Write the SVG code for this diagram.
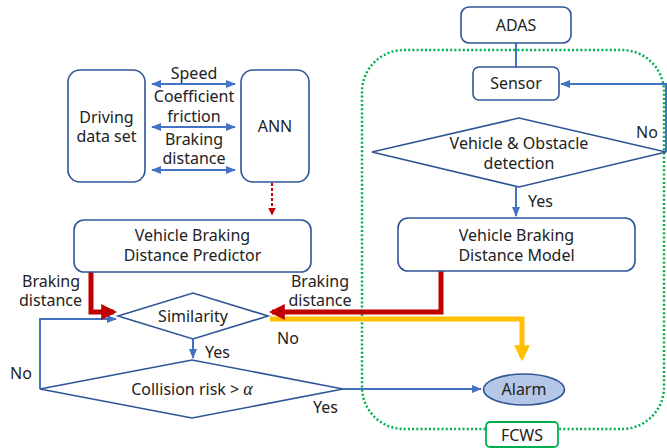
<svg xmlns="http://www.w3.org/2000/svg" width="667" height="448" viewBox="0 0 667 448">
<defs>
<style>
.box{fill:#fff;stroke:#2f5597;stroke-width:1.6}
.t{font-family:"Noto Sans","Open Sans",sans-serif;font-size:16px;fill:#222;text-anchor:middle}
.tl{font-family:"Noto Sans","Open Sans",sans-serif;font-size:16px;fill:#222}
.bl{fill:none;stroke:#4472c4;stroke-width:2}
.red{fill:none;stroke:#c00000;stroke-width:5}
.yel{fill:none;stroke:#ffc000;stroke-width:5}
</style>
<marker id="ab" viewBox="0 0 10 10" refX="9" refY="5" markerWidth="5" markerHeight="5" orient="auto-start-reverse" markerUnits="strokeWidth"><path d="M0,1 L10,5 L0,9 z" fill="#4472c4"/></marker>
<marker id="ar" viewBox="0 0 10 10" refX="8" refY="5" markerWidth="3.2" markerHeight="3.2" orient="auto" markerUnits="strokeWidth"><path d="M0,0 L10,5 L0,10 z" fill="#c00000"/></marker>
<marker id="ay" viewBox="0 0 10 10" refX="8" refY="5" markerWidth="3.2" markerHeight="3.2" orient="auto" markerUnits="strokeWidth"><path d="M0,0 L10,5 L0,10 z" fill="#ffc000"/></marker>
<marker id="ard" viewBox="0 0 10 10" refX="8" refY="5" markerWidth="4" markerHeight="4" orient="auto" markerUnits="strokeWidth"><path d="M0,0 L10,5 L0,10 z" fill="#c00000"/></marker>
</defs>
<rect width="667" height="448" fill="#fff"/>

<g id="fcws-frame">
<rect x="362" y="50" width="302" height="379" rx="42" fill="none" stroke="#00b050" stroke-width="2.5" stroke-dasharray="2 2.2"/>
</g>

<g id="connectors">
<line class="bl" x1="152" y1="84" x2="235" y2="84" marker-start="url(#ab)" marker-end="url(#ab)"/>
<line class="bl" x1="152" y1="127" x2="235" y2="127" marker-start="url(#ab)" marker-end="url(#ab)"/>
<line class="bl" x1="152" y1="170" x2="235" y2="170" marker-start="url(#ab)" marker-end="url(#ab)"/>
<line x1="272" y1="183" x2="272" y2="214" stroke="#c00000" stroke-width="2" stroke-dasharray="3 2" marker-end="url(#ard)"/>
<polyline class="bl" points="40,389 40,319 116,319" marker-end="url(#ab)"/>
<line class="bl" x1="193" y1="339" x2="193" y2="358" marker-end="url(#ab)"/>
<line class="bl" x1="343" y1="389" x2="481" y2="389" marker-end="url(#ab)"/>
<polyline class="yel" points="270,319 522,319 522,358" marker-end="url(#ay)"/>
<polyline class="red" points="91,272 91,312 114,312" marker-end="url(#ar)"/>
<polyline class="red" points="441,271 441,312 272,312" marker-end="url(#ar)"/>
<line class="bl" x1="516" y1="43" x2="516" y2="67"/>
<polyline class="bl" points="666,152 666,84 561,84" marker-end="url(#ab)"/>
<line class="bl" x1="516" y1="187" x2="516" y2="216" marker-end="url(#ab)"/>
</g>

<g id="driving-data-set">
<rect class="box" x="68" y="70" width="77" height="112" rx="12"/>
<text class="t" x="106.5" y="123">Driving</text>
<text class="t" x="106.5" y="142">data set</text>
</g>
<g id="ann">
<rect class="box" x="241" y="70" width="68" height="112" rx="12"/>
<text class="t" x="275" y="132">ANN</text>
</g>
<g id="link-labels">
<text class="t" x="194" y="79">Speed</text>
<text class="t" x="194" y="102">Coefficient</text>
<text class="t" x="194" y="122">friction</text>
<text class="t" x="194" y="145">Braking</text>
<text class="t" x="194" y="164">distance</text>
</g>
<g id="predictor">
<rect class="box" x="74" y="220" width="237" height="52" rx="10"/>
<text class="t" x="192.5" y="241">Vehicle Braking</text>
<text class="t" x="192.5" y="261">Distance Predictor</text>
</g>
<g id="similarity">
<polygon class="box" points="118,316 193,293 268,316 193,339"/>
<text class="t" x="193" y="322">Similarity</text>
</g>
<g id="collision">
<polygon class="box" points="40,389 192,360 343,389 192,418"/>
<text class="t" x="192" y="395">Collision risk &gt; <tspan font-style="italic" font-family="Liberation Serif, serif" font-size="18">α</tspan></text>
</g>
<g id="adas">
<rect class="box" x="461" y="7" width="110" height="36" rx="8"/>
<text class="t" x="516" y="31">ADAS</text>
</g>
<g id="sensor">
<rect class="box" x="473" y="67" width="86" height="33" rx="6"/>
<text class="t" x="516" y="89">Sensor</text>
</g>
<g id="detection">
<polygon class="box" points="372,152 519,118 666,152 519,187"/>
<text class="t" x="519" y="149">Vehicle &amp; Obstacle</text>
<text class="t" x="519" y="169">detection</text>
</g>
<g id="model">
<rect class="box" x="398" y="218" width="237" height="53" rx="10"/>
<text class="t" x="516.5" y="241">Vehicle Braking</text>
<text class="t" x="516.5" y="261">Distance Model</text>
</g>
<g id="alarm">
<ellipse cx="524" cy="389.5" rx="40.5" ry="15.5" fill="#b4c7e7" stroke="#2f5597" stroke-width="1.6"/>
<text class="t" x="524" y="395">Alarm</text>
</g>
<g id="fcws">
<rect x="486" y="422" width="72" height="25" rx="4" fill="#fff" stroke="#00b050" stroke-width="1.8"/>
<text class="t" x="522" y="441">FCWS</text>
</g>
<g id="labels">
<text class="tl" x="22" y="287">Braking</text>
<text class="tl" x="19" y="306">distance</text>
<text class="t" x="320" y="287">Braking</text>
<text class="t" x="320" y="306">distance</text>
<text class="t" x="288" y="344">No</text>
<text class="tl" x="205" y="358">Yes</text>
<text class="tl" x="10" y="379">No</text>
<text class="tl" x="313" y="413">Yes</text>
<text class="tl" x="636" y="138">No</text>
<text class="tl" x="528" y="207">Yes</text>
</g>
</svg>
